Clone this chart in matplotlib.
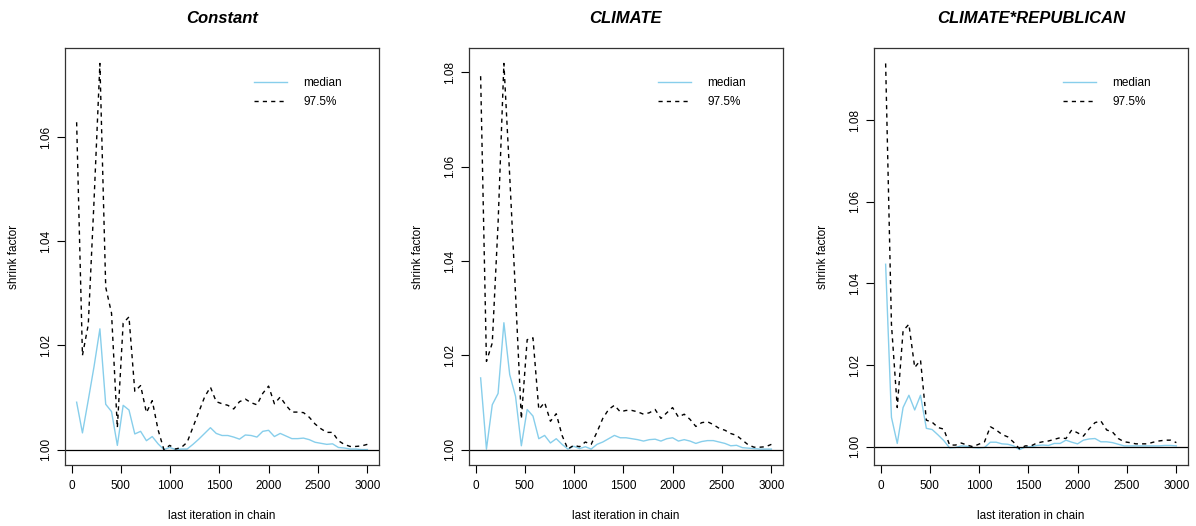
import matplotlib
matplotlib.use("Agg")
import matplotlib.pyplot as plt

plt.rcParams['font.family'] = ['Liberation Sans', 'DejaVu Sans']

iterations = [51, 110, 169, 228, 287, 346, 405, 464, 523, 582, 641, 700, 759, 818, 877,
              936, 995, 1054, 1113, 1172, 1231, 1290, 1349, 1408, 1467, 1526, 1585, 1644,
              1703, 1762, 1821, 1880, 1939, 1998, 2057, 2116, 2175, 2234, 2293, 2352, 2411,
              2470, 2529, 2588, 2647, 2706, 2765, 2824, 2883, 2942, 3000]

titles = ["Constant", "CLIMATE", "CLIMATE*REPUBLICAN"]

constant_median = [1.0091, 1.0032, 1.0095, 1.0160, 1.0232, 1.0087, 1.0073, 1.0008, 1.0085, 1.0076,
                   1.0030, 1.0035, 1.0017, 1.0025, 1.0011, 1.0000, 1.0004, 1.0000, 1.0001, 1.0001,
                   1.0010, 1.0020, 1.0031, 1.0042, 1.0031, 1.0027, 1.0027, 1.0024, 1.0020, 1.0028,
                   1.0027, 1.0024, 1.0035, 1.0037, 1.0025, 1.0031, 1.0026, 1.0021, 1.0021, 1.0022,
                   1.0019, 1.0014, 1.0012, 1.0010, 1.0011, 1.0004, 1.0003, 1.0001, 1.0001, 1.0000,
                   1.0000]
constant_upper = [1.0629, 1.0181, 1.0240, 1.0480, 1.0742, 1.0312, 1.0262, 1.0042, 1.0243, 1.0255,
                  1.0112, 1.0123, 1.0071, 1.0094, 1.0038, 1.0000, 1.0008, 1.0001, 1.0004, 1.0014,
                  1.0043, 1.0072, 1.0101, 1.0120, 1.0092, 1.0088, 1.0085, 1.0078, 1.0092, 1.0097,
                  1.0090, 1.0086, 1.0108, 1.0122, 1.0088, 1.0101, 1.0085, 1.0072, 1.0072, 1.0071,
                  1.0062, 1.0049, 1.0040, 1.0033, 1.0033, 1.0017, 1.0010, 1.0006, 1.0006, 1.0007,
                  1.0010]

climate_median = [1.0152, 1.0001, 1.0095, 1.0119, 1.0269, 1.0159, 1.0113, 1.0008, 1.0085, 1.0071,
                  1.0023, 1.0030, 1.0014, 1.0023, 1.0011, 1.0001, 1.0007, 1.0002, 1.0006, 1.0001,
                  1.0011, 1.0016, 1.0023, 1.0030, 1.0025, 1.0025, 1.0023, 1.0021, 1.0018, 1.0021,
                  1.0022, 1.0018, 1.0023, 1.0025, 1.0018, 1.0021, 1.0018, 1.0013, 1.0017, 1.0019,
                  1.0019, 1.0016, 1.0013, 1.0008, 1.0009, 1.0004, 1.0003, 1.0002, 1.0001, 1.0001,
                  1.0001]
climate_upper = [1.0792, 1.0187, 1.0226, 1.0480, 1.0819, 1.0580, 1.0330, 1.0065, 1.0233, 1.0237,
                 1.0085, 1.0100, 1.0060, 1.0076, 1.0030, 1.0001, 1.0009, 1.0006, 1.0016, 1.0011,
                 1.0037, 1.0066, 1.0085, 1.0094, 1.0080, 1.0083, 1.0083, 1.0080, 1.0075, 1.0078,
                 1.0085, 1.0066, 1.0078, 1.0089, 1.0069, 1.0075, 1.0064, 1.0049, 1.0057, 1.0059,
                 1.0053, 1.0045, 1.0041, 1.0034, 1.0030, 1.0020, 1.0010, 1.0005, 1.0005, 1.0006,
                 1.0011]

interaction_median = [1.0447, 1.0072, 1.0008, 1.0096, 1.0126, 1.0090, 1.0126, 1.0045, 1.0042, 1.0029,
                      1.0015, 0.9997, 0.9998, 1.0002, 1.0001, 0.9998, 0.9997, 0.9998, 1.0011, 1.0011,
                      1.0007, 1.0006, 1.0002, 0.9993, 0.9999, 1.0000, 1.0003, 1.0004, 1.0003, 1.0008,
                      1.0008, 1.0016, 1.0011, 1.0007, 1.0016, 1.0019, 1.0020, 1.0012, 1.0012, 1.0010,
                      1.0006, 1.0002, 1.0002, 1.0002, 1.0002, 1.0002, 1.0002, 1.0002, 1.0003, 1.0003,
                      1.0002]
interaction_upper = [1.0939, 1.0300, 1.0096, 1.0284, 1.0300, 1.0194, 1.0212, 1.0065, 1.0060, 1.0047,
                     1.0043, 1.0004, 1.0004, 1.0009, 1.0004, 1.0000, 1.0006, 1.0012, 1.0049, 1.0041,
                     1.0030, 1.0024, 1.0011, 0.9995, 1.0002, 1.0002, 1.0009, 1.0012, 1.0014, 1.0018,
                     1.0022, 1.0020, 1.0041, 1.0034, 1.0026, 1.0044, 1.0059, 1.0063, 1.0041, 1.0036,
                     1.0020, 1.0012, 1.0010, 1.0007, 1.0007, 1.0007, 1.0011, 1.0014, 1.0016, 1.0016,
                     1.0010]

medians = [constant_median, climate_median, interaction_median]
uppers = [constant_upper, climate_upper, interaction_upper]
yticks_list = [[1.00, 1.02, 1.04, 1.06], [1.00, 1.02, 1.04, 1.06, 1.08], [1.00, 1.02, 1.04, 1.06, 1.08]]
xticks = [0, 500, 1000, 1500, 2000, 2500, 3000]

W, H = 1196, 526
fig = plt.figure(figsize=(W / 100, H / 100), dpi=100)
lefts_px = [65, 469, 874]
width_px = 314
top_px, bottom_px = 48, 465

FS = 8.5
for i in range(3):
    ax = fig.add_axes([lefts_px[i] / W, 1 - bottom_px / H, width_px / W, (bottom_px - top_px) / H])
    med, up = medians[i], uppers[i]
    ax.plot(iterations, med, color='#87CEEB', lw=1.0, label='median')
    ax.plot(iterations, up, color='black', lw=1.0, dashes=(3, 3), label='97.5%')
    ax.axhline(1.0, color='black', lw=0.9)
    # R-style 4% axis extension
    xmin, xmax = min(iterations), max(iterations)
    dx = (xmax - xmin) * 0.04
    ax.set_xlim(xmin - dx, xmax + dx)
    ymin = min(min(med), min(up), 1.0)
    ymax = max(max(med), max(up))
    dy = (ymax - ymin) * 0.04
    ax.set_ylim(ymin - dy, ymax + dy)
    ax.set_xticks(xticks)
    ax.set_xticklabels([str(t) for t in xticks])
    ax.set_yticks(yticks_list[i])
    ax.set_yticklabels(["%.2f" % t for t in yticks_list[i]], rotation=90, va='center')
    ax.tick_params(axis='both', direction='out', length=5.5, width=0.8, labelsize=FS, colors='black')
    ax.tick_params(axis='x', pad=5)
    ax.tick_params(axis='y', pad=4)
    for s in ax.spines.values():
        s.set_linewidth(0.9)
        s.set_color('#333333')
    ax.set_title(titles[i], fontsize=12, fontweight='bold', fontstyle='italic', pad=18)
    ax.set_xlabel('last iteration in chain', fontsize=FS)
    ax.set_ylabel('shrink factor', fontsize=FS)
    ax.xaxis.set_label_coords(0.5, -0.107)
    ax.yaxis.set_label_coords(-45 / width_px, 0.5)
    leg = ax.legend(loc='upper left', bbox_to_anchor=(0.602, 0.93), frameon=False,
                    fontsize=FS, handlelength=2.8, handletextpad=1.35, labelspacing=0.55,
                    borderpad=0, borderaxespad=0)

fig.savefig('out.png', dpi=100)
